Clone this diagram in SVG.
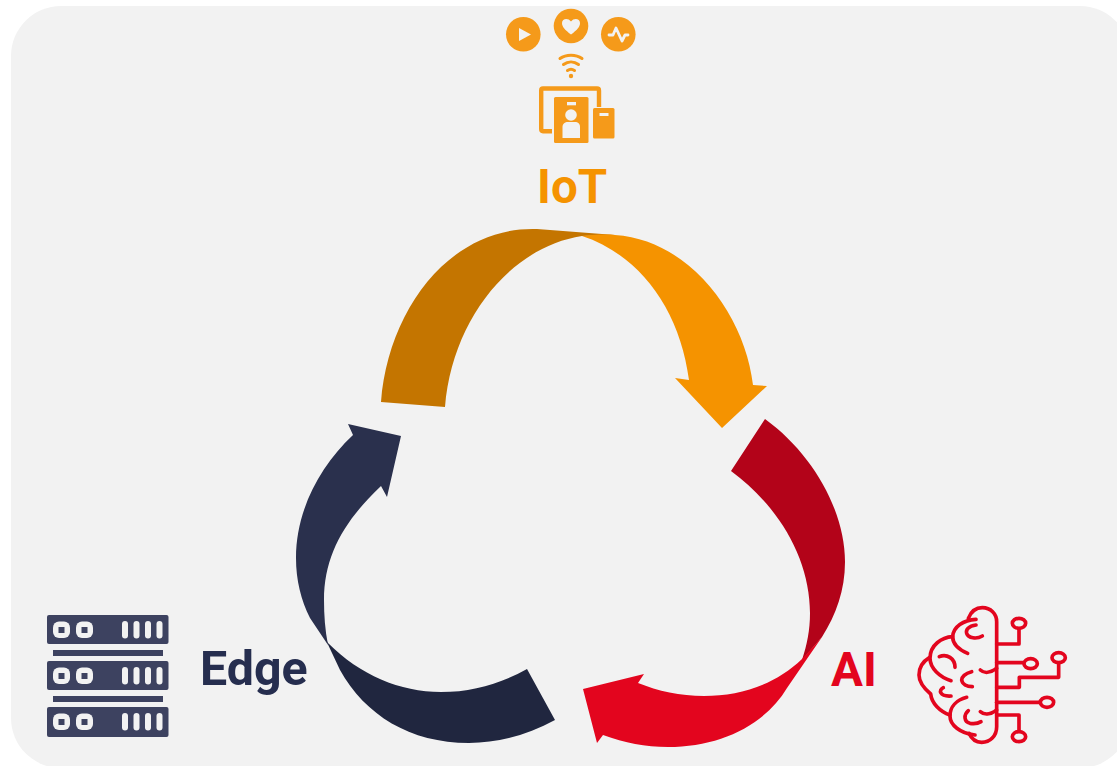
<svg xmlns="http://www.w3.org/2000/svg" width="1117" height="766" viewBox="0 0 1117 766">
<style>
text{font-family:Roboto,"Liberation Sans",sans-serif;font-weight:700;font-size:47.500px}
.iot{fill:#F59A1A}
.lt{fill:#F2F2F2}
.wifi{fill:none;stroke:#F59A1A;stroke-width:3;stroke-linecap:round}
.br{fill:none;stroke:#E3051E;stroke-width:11;stroke-linecap:round;stroke-linejoin:round}
.srv{fill:#3D4260}
.srvh{fill:#F2F2F2}
</style>
<rect x="11" y="6" width="1119" height="762" rx="50" fill="#F2F2F2"/>
<g id="connectors">
<path fill="#C47500" d="M381 402C388 310 450 226 537 229L615 235L582 236C510 247 452 320 445 407Z"/>
<path fill="#F59300" d="M582 236C640 255 680 310 689 380L675 378L722 428L767 386L753 385C745 315 690 240 615 235C605 234 590 235 582 236Z"/>
<path fill="#B30319" d="M765 419C812 453 845 510 845 562C845 590 836 615 822 637L802 660C807 645 810 630 810 613C810 560 780 507 731 471Z"/>
<path fill="#E3051E" d="M802 659C775 685 740 696 704 696C680 696 658 691 638 683L644 674L583 689L597 743L603 735C625 743 645 747 668 747C720 747 765 725 787 688L822 637Z"/>
<path fill="#2A304D" d="M348 424L353 435C320 466 296 510 296 558C296 580 301 600 310 618L328 645C325 630 324 615 324 600C324 555 345 520 381 486L387 497L401 436Z"/>
<path fill="#20263F" d="M328 643C360 675 400 692 441 692C472 692 500 684 527 669L555 720C528 735 498 743 469 743C410 743 365 715 340 670L324 636Z"/>
</g>
<g id="iot">
<circle class="iot" cx="523.300" cy="34.300" r="17.300"/>
<path class="lt" d="M519 28L531 34.500L519 41Z"/>
<circle class="iot" cx="571" cy="26" r="17.300"/>
<path class="lt" d="M571 34.500C565 30 562 27 562 23C562 18.500 568 17.500 571 21.500C574 17.500 580 18.500 580 23C580 27 577 30 571 34.500Z"/>
<circle class="iot" cx="618.300" cy="34.300" r="17.300"/>
<path fill="none" stroke="#F2F2F2" stroke-width="2.800" stroke-linejoin="round" stroke-linecap="round" d="M609 35H613L616 28L622 41L625 35H628"/>
<path class="wifi" d="M560 58.500C566 54 576 54 582 58.500"/>
<path class="wifi" d="M563.500 64.500C568 61 574 61 578.500 64.500"/>
<path class="wifi" d="M567.500 70.500C569.500 69 572.500 69 574.500 70.500"/>
<circle class="iot" cx="571" cy="76" r="2.200"/>
<path fill="none" stroke="#F59A1A" stroke-width="4.400" stroke-linejoin="round" d="M552 131.200H543C541.800 131.200 541.200 130.500 541.200 129V90.500C541.200 89 541.800 88.500 543 88.500H597C598.500 88.500 599 89 599 90.500V107"/>
<rect class="iot" x="554" y="97" width="34.500" height="46" rx="1.500"/>
<rect class="lt" x="567" y="102" width="9" height="3.300"/>
<circle class="lt" cx="571" cy="115" r="5.800"/>
<path class="lt" d="M562.500 138V127C562.500 123.500 565 122 568 122H575C578 122 580 123.500 580 127V138Z"/>
<rect class="iot" x="593" y="108" width="21.500" height="30.500" rx="1.500"/>
<rect class="lt" x="599.500" y="113" width="9" height="3"/>
<text x="537" y="203" fill="#F59300">IoT</text>
</g>
<g id="ai">
<text x="831" y="686" fill="#E3051E">AI</text>
<g class="br" transform="translate(900 590) scale(.33333)">
<path d="M205 85C215 60 230 53 247 53C272 53 290 72 290 95V410C290 438 270 457 245 457C228 457 215 448 207 430"/>
<path d="M228 88C190 90 160 110 158 140C158 165 180 180 203 190"/>
<path d="M158 140C125 142 90 165 90 205C90 235 120 262 153 272"/>
<path d="M88 203C68 215 57 235 57 255C57 275 72 295 92 312C95 340 120 365 150 375"/>
<path d="M200 322C170 330 150 350 150 378C150 405 180 430 225 435"/>
<path d="M228 105C205 108 197 120 200 130C205 145 230 148 247 138"/>
<path d="M118 200C140 190 165 205 165 232"/>
<path d="M241 240C252 250 270 250 290 235"/>
<path d="M215 245C195 250 185 262 185 270C187 282 200 290 217 290"/>
<path d="M130 293C115 300 118 320 153 318"/>
<path d="M241 365C252 375 270 375 290 360"/>
<path d="M205 362C190 375 192 395 210 400C222 402 235 400 243 395"/>
<path d="M290 162H357V118"/>
<ellipse cx="357" cy="100" rx="20" ry="15"/>
<path d="M290 218H368"/>
<ellipse cx="392" cy="221" rx="20" ry="15"/>
<path d="M290 292H358V262H476V222"/>
<ellipse cx="476" cy="203" rx="20" ry="15"/>
<path d="M290 337H418"/>
<ellipse cx="441" cy="337" rx="20" ry="15"/>
<path d="M290 375H357V422"/>
<ellipse cx="357" cy="440" rx="20" ry="15"/>
</g>
</g>
<g id="edge">
<text x="200" y="685" fill="#262E4F" style="font-size:48.300px">Edge</text>
<rect class="srv" x="53" y="650" width="110" height="6"/>
<rect class="srv" x="53" y="696" width="110" height="6"/>
<g id="srv1"><rect class="srv" x="47" y="615" width="121.500" height="29" rx="2"/>
<rect class="srvh" x="53" y="621.500" width="17" height="16.500" rx="6"/><rect class="srv" x="58.500" y="627" width="6" height="6"/>
<rect class="srvh" x="76" y="621.500" width="17" height="16.500" rx="6"/><rect class="srv" x="81.500" y="627" width="6" height="6"/>
<rect class="srvh" x="122" y="621" width="6" height="17.500" rx="3"/><rect class="srvh" x="133.500" y="621" width="6" height="17.500" rx="3"/><rect class="srvh" x="145" y="621" width="6" height="17.500" rx="3"/><rect class="srvh" x="156.500" y="621" width="6" height="17.500" rx="3"/></g>
<g id="srv2"><rect class="srv" x="47" y="661" width="121.500" height="29" rx="2"/>
<rect class="srvh" x="53" y="667.500" width="17" height="16.500" rx="6"/><rect class="srv" x="58.500" y="673" width="6" height="6"/>
<rect class="srvh" x="76" y="667.500" width="17" height="16.500" rx="6"/><rect class="srv" x="81.500" y="673" width="6" height="6"/>
<rect class="srvh" x="122" y="667" width="6" height="17.500" rx="3"/><rect class="srvh" x="133.500" y="667" width="6" height="17.500" rx="3"/><rect class="srvh" x="145" y="667" width="6" height="17.500" rx="3"/><rect class="srvh" x="156.500" y="667" width="6" height="17.500" rx="3"/></g>
<g id="srv3"><rect class="srv" x="47" y="707" width="121.500" height="30" rx="2"/>
<rect class="srvh" x="53" y="713.500" width="17" height="16.500" rx="6"/><rect class="srv" x="58.500" y="719" width="6" height="6"/>
<rect class="srvh" x="76" y="713.500" width="17" height="16.500" rx="6"/><rect class="srv" x="81.500" y="719" width="6" height="6"/>
<rect class="srvh" x="122" y="713" width="6" height="17.500" rx="3"/><rect class="srvh" x="133.500" y="713" width="6" height="17.500" rx="3"/><rect class="srvh" x="145" y="713" width="6" height="17.500" rx="3"/><rect class="srvh" x="156.500" y="713" width="6" height="17.500" rx="3"/></g>
</g>
</svg>
